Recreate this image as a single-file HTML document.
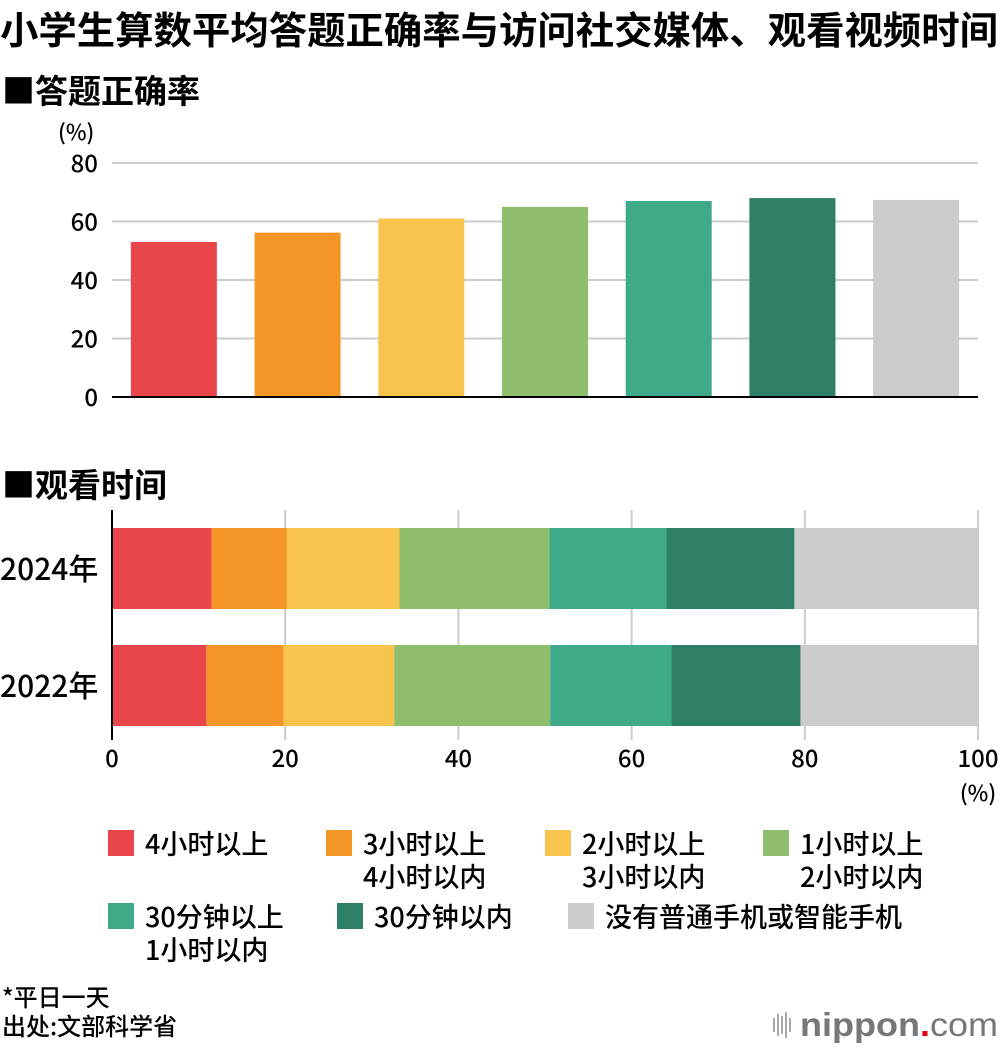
<!DOCTYPE html>
<html><head><meta charset="utf-8"><style>
body{margin:0;background:#fff;}
svg text{font-family:"Liberation Sans","Noto Sans CJK SC",sans-serif;}
.cj{font-family:"Noto Sans CJK SC","Liberation Sans",sans-serif !important;font-weight:500;}
</style></head><body>
<svg id="c" width="1000" height="1048" xmlns="http://www.w3.org/2000/svg">
<text class="cj" x="0" y="44" font-size="38" font-weight="bold" style="font-weight:bold" textLength="998" lengthAdjust="spacingAndGlyphs">小学生算数平均答题正确率与访问社交媒体、观看视频时间</text>
<text class="cj" x="2" y="103" font-size="33" style="font-weight:bold">■答题正确率</text>
<text class="cj" x="58" y="140" font-size="22">(%)</text>
<g id="topChart"></g>
<text class="cj" x="2" y="497" font-size="33" style="font-weight:bold">■观看时间</text>
<g id="botChart"></g>
<g id="legendG"></g>
<text class="cj" x="2" y="1006" font-size="24">*平日一天</text>
<text class="cj" x="2" y="1035" font-size="24">出处:文部科学省</text>
<g>
<rect x="773" y="1018" width="2" height="14" fill="#aaa"/><rect x="777" y="1014" width="2" height="22" fill="#aaa"/><rect x="781" y="1016" width="2" height="18" fill="#aaa"/><rect x="785" y="1012" width="2" height="26" fill="#aaa"/><rect x="789" y="1018" width="2" height="14" fill="#aaa"/>
<text x="800" y="1036" font-size="33" fill="#777" font-weight="bold" textLength="198" lengthAdjust="spacingAndGlyphs">nippon<tspan fill="#e60012">.</tspan><tspan font-weight="normal">com</tspan></text>
</g>
</svg>
<script>
const NS="http://www.w3.org/2000/svg";
function mk(p,t,a){const e=document.createElementNS(NS,t);for(const k in a)e.setAttribute(k,a[k]);p.appendChild(e);return e;}
const colors=["#e8464a","#f39626","#f9c44e","#8fbe6c","#3faa8a","#2e7f68","#cccccc"];
const accuracy=[53,56.2,61,65,67,68,67.4];
const yTicks=[0,20,40,60,80];
const years=["2024年","2022年"];
const share2024=[11.5,8.7,13.0,17.3,13.5,14.8,21.2];
const share2022=[10.9,8.9,12.8,18.0,14.0,14.9,20.5];
const xTicks=[0,20,40,60,80,100];
const legendLabels=[["4小时以上"],["3小时以上","4小时以内"],["2小时以上","3小时以内"],["1小时以上","2小时以内"],["30分钟以上","1小时以内"],["30分钟以内"],["没有普通手机或智能手机"]];

const topG=document.getElementById('topChart');
const yS=v=>397-v*(397-163)/80;
const L=112,R=978,bw=86,step=(R-L)/7;
yTicks.forEach(t=>{
 if(t>0){const g=mk(topG,'line',{x1:L,x2:R,y1:yS(t),y2:yS(t),stroke:'#ccc','stroke-width':2});
 
 }
 const tx=mk(topG,'text',{x:98,y:yS(t)+9,'font-size':24,'text-anchor':'end',class:'cj'});tx.textContent=t;
 
 
});
accuracy.forEach((v,i)=>{
 const r=mk(topG,'rect',{x:L+step*i+(step-bw)/2,y:yS(v),width:bw,height:yS(0)-yS(v),fill:colors[i]});
 
 
});
const base=mk(topG,'line',{x1:L,x2:R,y1:yS(0),y2:yS(0),stroke:'#000','stroke-width':2});



const botG=document.getElementById('botChart');
const xS=v=>112+v*(978-112)/100;
xTicks.forEach(t=>{
 if(t>0){const g=mk(botG,'line',{x1:xS(t),x2:xS(t),y1:510,y2:740,stroke:'#ccc','stroke-width':2});
 
 }
 const tx=mk(botG,'text',{x:xS(t),y:767,'font-size':24,'text-anchor':'middle',class:'cj'});tx.textContent=t;
 
 
});
const u=mk(botG,'text',{x:xS(100),y:801,'font-size':22,'text-anchor':'middle',class:'cj'});u.textContent='(%)';


[share2024,share2022].forEach((arr,j)=>{
 const yy=528+j*117;let acc=0;
 arr.forEach((v,i)=>{
  const r=mk(botG,'rect',{x:xS(acc),y:yy,width:xS(acc+v)-xS(acc),height:81,fill:colors[i]});
  
  
  acc+=v;
 });
 const t=mk(botG,'text',{x:0,y:yy+52,'font-size':30,class:'cj'});t.textContent=years[j];
 
 
});
const ax=mk(botG,'line',{x1:112,x2:112,y1:510,y2:740,stroke:'#000','stroke-width':2});



const lg=document.getElementById('legendG');
const pos=[[108,830],[326,830],[545,830],[763,830],[108,903],[337,903],[568,903]];
legendLabels.forEach((lines,i)=>{
 const g=mk(lg,'g',{});
 
 
 const [px,py]=pos[i];
 mk(g,'rect',{x:px,y:py,width:26,height:26,fill:colors[i]});
 lines.forEach((s,k)=>{const t=mk(g,'text',{x:px+37,y:py+24+k*33,'font-size':27,class:'cj'});t.textContent=s;});
});
</script>
</body></html>
